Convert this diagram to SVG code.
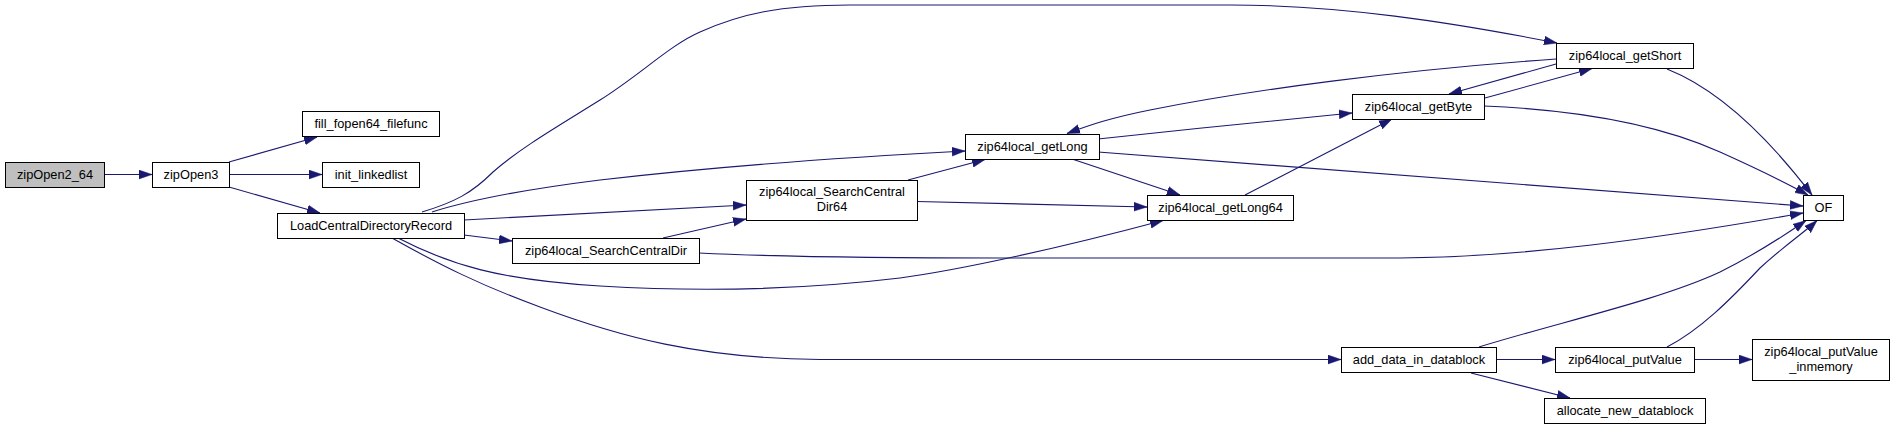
<svg xmlns="http://www.w3.org/2000/svg" width="1897" height="429" viewBox="0 0 1897 429">
<style>
.n rect{fill:#fff;stroke:#000;stroke-width:1}
.root rect{fill:#bfbfbf}
.n text{font-family:"Liberation Sans",Arial,sans-serif;font-size:12.8px;fill:#000;text-anchor:middle}
.e path{fill:none;stroke:#191970;stroke-width:1.1;marker-end:url(#ah)}
</style>
<defs>
<marker id="ah" markerUnits="userSpaceOnUse" markerWidth="14" markerHeight="10" refX="13" refY="5" orient="auto">
<path d="M0,0.6 L13,5 L0,9.4 z" fill="#191970" stroke="#191970" stroke-width="0.5"/>
</marker>
</defs>
<rect width="1897" height="429" fill="#fff"/>
<g id="edges" class="e">
<path d="M104,174.5 L152,174.5"/>
<path d="M229,162 L317,137"/>
<path d="M229,174.5 L322,174.5"/>
<path d="M229,187 L320,213"/>
<path d="M422,212 C455,202 472,193 493,172 C520,148 560,125 600,100 C640,75 670,45 700,32 C740,14 780,5 850,5 L1230,5 C1340,5 1450,22 1557,43"/>
<path d="M432,212 C470,200 520,190 600,180 C720,166 850,157 965,151"/>
<path d="M464,220 L746,205"/>
<path d="M464,235 L512,241"/>
<path d="M398,238 C450,265 500,280 600,286 C700,292 800,290 900,278 C960,270 1060,248 1163,220.5"/>
<path d="M392,238 C440,265 480,285 540,307 C620,337 700,358.5 820,359.5 L1341,359.5"/>
<path d="M663,238 L746,219"/>
<path d="M699,253 C760,256 850,258 1000,258 L1400,258 C1520,257 1650,240 1803,213"/>
<path d="M908,180 L985,159.5"/>
<path d="M917,201.5 L1147,207"/>
<path d="M1098,139 C1180,130 1280,120 1352,113"/>
<path d="M1072,159 L1180,195"/>
<path d="M1098,152 L1803,206"/>
<path d="M1556,59 C1400,70 1250,90 1150,110 C1110,118 1090,125 1067,133.5"/>
<path d="M1485,98 L1592,68.5"/>
<path d="M1556,64 L1449,94"/>
<path d="M1245,195 L1392,119"/>
<path d="M1484,106 C1580,110 1660,125 1720,152 C1760,170 1790,185 1808,195"/>
<path d="M1667,69 C1720,90 1770,140 1812,195"/>
<path d="M1479,347 C1560,322 1660,300 1720,272 C1760,252 1785,235 1806,220.5"/>
<path d="M1667,347 C1700,330 1730,300 1760,268 C1785,245 1805,232 1817,220.5"/>
<path d="M1496,359.5 L1555,359.5"/>
<path d="M1694,359.5 L1752,359.5"/>
<path d="M1471,373 L1570,398"/>
</g>
<g id="zipOpen2_64" class="n root"><rect x="5.5" y="162.5" width="99" height="25"/><text x="55" y="179">zipOpen2_64</text></g>
<g id="zipOpen3" class="n"><rect x="152.5" y="162.5" width="77" height="25"/><text x="191" y="179">zipOpen3</text></g>
<g id="fill_fopen64_filefunc" class="n"><rect x="302.5" y="111.5" width="137" height="25"/><text x="371" y="128">fill_fopen64_filefunc</text></g>
<g id="init_linkedlist" class="n"><rect x="322.5" y="162.5" width="97" height="25"/><text x="371" y="179">init_linkedlist</text></g>
<g id="LoadCentralDirectoryRecord" class="n"><rect x="277.5" y="213.5" width="187" height="25"/><text x="371" y="230">LoadCentralDirectoryRecord</text></g>
<g id="zip64local_SearchCentralDir" class="n"><rect x="512.5" y="238.5" width="187" height="25"/><text x="606" y="255">zip64local_SearchCentralDir</text></g>
<g id="zip64local_SearchCentralDir64" class="n"><rect x="746.5" y="180.5" width="171" height="40"/><text x="832" y="196">zip64local_SearchCentral</text><text x="832" y="211">Dir64</text></g>
<g id="zip64local_getLong" class="n"><rect x="965.5" y="134.5" width="134" height="25"/><text x="1032.5" y="151">zip64local_getLong</text></g>
<g id="zip64local_getLong64" class="n"><rect x="1147.5" y="195.5" width="146" height="25"/><text x="1220.5" y="212">zip64local_getLong64</text></g>
<g id="zip64local_getByte" class="n"><rect x="1352.5" y="94.5" width="132" height="25"/><text x="1418.5" y="111">zip64local_getByte</text></g>
<g id="zip64local_getShort" class="n"><rect x="1556.5" y="43.5" width="137" height="25"/><text x="1625" y="60">zip64local_getShort</text></g>
<g id="OF" class="n"><rect x="1803.5" y="195.5" width="40" height="25"/><text x="1823.5" y="212">OF</text></g>
<g id="add_data_in_datablock" class="n"><rect x="1341.5" y="347.5" width="155" height="25"/><text x="1419" y="364">add_data_in_datablock</text></g>
<g id="zip64local_putValue" class="n"><rect x="1555.5" y="347.5" width="139" height="25"/><text x="1625" y="364">zip64local_putValue</text></g>
<g id="zip64local_putValue_inmemory" class="n"><rect x="1752.5" y="339.5" width="137" height="41"/><text x="1821" y="355.5">zip64local_putValue</text><text x="1821" y="370.5">_inmemory</text></g>
<g id="allocate_new_datablock" class="n"><rect x="1544.5" y="398.5" width="161" height="25"/><text x="1625" y="415">allocate_new_datablock</text></g>
</svg>
